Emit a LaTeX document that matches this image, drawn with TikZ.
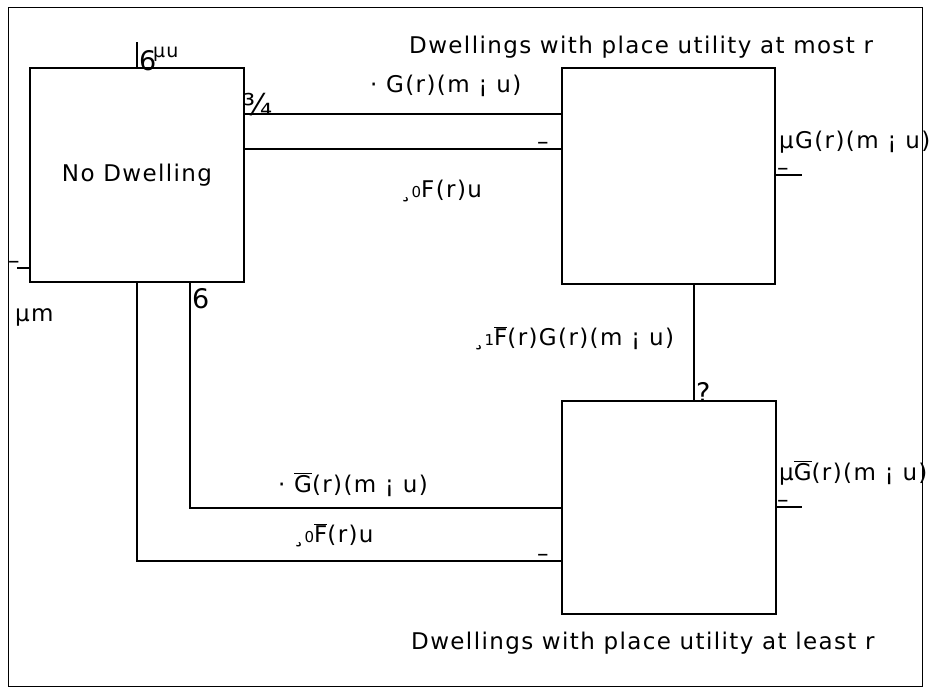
\documentclass[tikz,border=0pt]{standalone}
\usepackage{fontspec}
\setmainfont{DejaVu Sans}[LetterSpace=6]
\newcommand{\fs}{\fontsize{23}{27}\selectfont}
\newcommand{\fsbig}{\fontsize{27}{31}\selectfont}
\newcommand{\fsfr}{\fontsize{30}{34}\selectfont}
\newcommand{\fssm}{\fontsize{19}{22}\selectfont}
\newcommand{\dg}[1]{{\fontsize{15}{17}\selectfont #1}}
\newcommand{\ovl}[1]{\ensuremath{\overline{\hbox{#1}}}}
\begin{document}
\begin{tikzpicture}[x=1pt,y=-1pt,
  box/.style={draw,line width=2.2pt,inner sep=0pt},
  conn/.style={line width=2.2pt},
  lbl/.style={font=\fs,inner sep=0pt,anchor=base west},
  glyph/.style={font=\fsbig,inner sep=0pt,anchor=base west}]
\useasboundingbox (0,0) rectangle (930,688);
\draw[line width=1.5pt] (8.5,7.5) rectangle (922.5,686.5);

% boxes
\node[box,minimum width=214pt,minimum height=214pt,font=\fs] (nd) at (137,175) {No Dwelling};
\node[box,minimum width=213pt,minimum height=216pt] (top) at (668.5,176) {};
\node[box,minimum width=214pt,minimum height=213pt] (bot) at (669,507.5) {};

% helper coordinates
\coordinate (ya) at (0,114);
\coordinate (yb) at (0,149);
\coordinate (xc) at (694,0);
\coordinate (xd) at (190,0);
\coordinate (ye) at (0,508);
\coordinate (yf) at (0,561);
\coordinate (yg) at (0,268);
\coordinate (yh) at (0,175);
\coordinate (yi) at (0,507);
\coordinate (topfree) at (137,42);
\coordinate (leftfree) at (17,268);
\coordinate (rfa) at (802,175);
\coordinate (rfb) at (802,507);
\coordinate (cd) at (190,508);
\coordinate (ce) at (137,561);

% connectors
\draw[conn] (nd.east |- ya) -- (top.west |- ya);
\draw[conn] (nd.east |- yb) -- (top.west |- yb);
\draw[conn] (top.south -| xc) -- (bot.north -| xc);
\draw[conn] (nd.south -| xd) -- (cd) -- (bot.west |- ye);
\draw[conn] (nd.south) -- (ce) -- (bot.west |- yf);
\draw[conn] (topfree) -- (nd.north);
\draw[conn] (leftfree) -- (nd.west |- yg);
\draw[conn] (top.east |- yh) -- (rfa);
\draw[conn] (bot.east |- yi) -- (rfb);

% titles
\node[lbl] (t1) at (409,53) {Dwellings with place utility at most r};
\node[lbl] (t2) at (411,649) {Dwellings with place utility at least r};

% rate labels
\node[lbl] (l1) at (370,92) {· G(r)(m ¡  u)};
\node[lbl] (l2) at (400,197) {¸\dg{0}F(r)u};
\node[lbl] (l3) at (779,148) {µG(r)(m ¡  u)};
\node[lbl] (l4) at (473,345) {¸\dg{1}\ovl{F}(r)G(r)(m ¡  u)};
\node[lbl] (l5) at (278,492) {· \ovl{G}(r)(m ¡  u)};
\node[lbl] (l6) at (293,542) {¸\dg{0}\ovl{F}(r)u};
\node[lbl] (l7) at (779,480) {µ\ovl{G}(r)(m ¡  u)};
\node[lbl] (l8) at (15,321) {µm};
\node[lbl,font=\fssm] (l9) at (153,57) {µu};

% broken arrow glyphs
\node[lbl] (g1) at (777,175) {–};
\node[lbl] (g2) at (777,507) {–};
\node[lbl] (g3) at (537,149) {–};
\node[lbl] (g4) at (537,561) {–};
\node[lbl] (g5) at (8,268.5) {–};
\node[glyph,font=\fsfr] (g6) at (243,115) {¾};
\node[glyph] (g7) at (139,70) {6};
\node[glyph] (g8) at (192,308) {6};
\node[glyph] (g9) at (696,402) {?};
\end{tikzpicture}
\end{document}
